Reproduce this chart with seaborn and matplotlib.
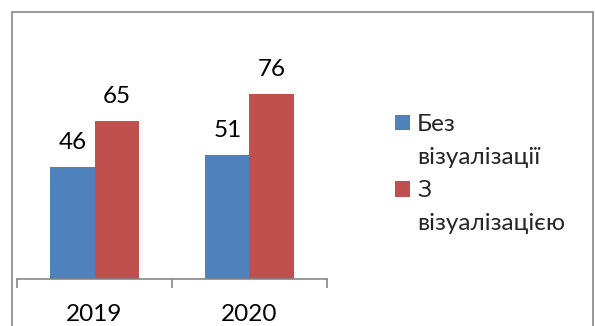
import matplotlib
matplotlib.use("Agg")
import matplotlib.pyplot as plt
import seaborn as sns
import pandas as pd
from matplotlib.patches import Patch, Rectangle

years = ["2019", "2020"]
series = ["Без візуалізації", "З візуалізацією"]
no_vis = [46, 51]
with_vis = [65, 76]
legend_lines = [["Без", "візуалізації"], ["З", "візуалізацією"]]
colors = ["#4F81BD", "#C0504D"]

sns.set_theme(style="white")
FONT = ["Lato", "DejaVu Sans"]
plt.rcParams["font.family"] = FONT

df = pd.DataFrame({
    "year": years * 2,
    "series": [series[0]] * 2 + [series[1]] * 2,
    "value": no_vis + with_vis,
})

W, H = 595, 326
fig = plt.figure(figsize=(W / 100, H / 100), dpi=100)
ax = fig.add_axes([17 / W, (H - 279) / H, (327 - 17) / W, 90 * 2.43 / H])

sns.barplot(data=df, x="year", y="value", hue="series", order=years,
            hue_order=series, palette=colors, saturation=1, width=0.568,
            ax=ax, legend=False, edgecolor="none")

ax.set_ylim(0, 90)
ax.set_xlim(-0.5, 1.5)
ax.set_xlabel("")
ax.set_ylabel("")
ax.set_yticks([])
for s in ["left", "top", "right"]:
    ax.spines[s].set_visible(False)
ax.spines["bottom"].set_color("#868686")
ax.spines["bottom"].set_linewidth(1.2)

ax.set_xticks([0, 1])
ax.set_xticklabels(years, fontsize=17.5, color="#000000")
ax.tick_params(axis="x", which="major", length=0, pad=18)
ax.set_xticks([-0.5, 0.5, 1.5], minor=True)
ax.tick_params(axis="x", which="minor", length=6.5, width=1.2, color="#868686",
               bottom=True, direction="out")

for cont in ax.containers:
    ax.bar_label(cont, fontsize=17.5, padding=10, color="#000000")

handles = []
labels = []
for c, lines in zip(colors, legend_lines):
    handles.append(Patch(facecolor=c, edgecolor="none"))
    labels.append(lines[0])
    handles.append(Patch(facecolor="none", edgecolor="none"))
    labels.append(lines[1])

fs = 17.5
fs_px = fs * 100 / 72
fig.legend(handles, labels, loc="upper left",
           bbox_to_anchor=(395 / W, (H - 114) / H),
           frameon=False, fontsize=fs, borderpad=0, borderaxespad=0,
           handlelength=15 / fs_px, handleheight=15 / fs_px,
           handletextpad=7 / fs_px, labelspacing=0.5)

fig.patches.append(Rectangle((12 / W, -0.1), (593 - 12) / W, (H - 12) / H + 0.1,
                             transform=fig.transFigure, fill=False,
                             edgecolor="#868686", linewidth=1.2))

fig.savefig("out.png", dpi=100)
